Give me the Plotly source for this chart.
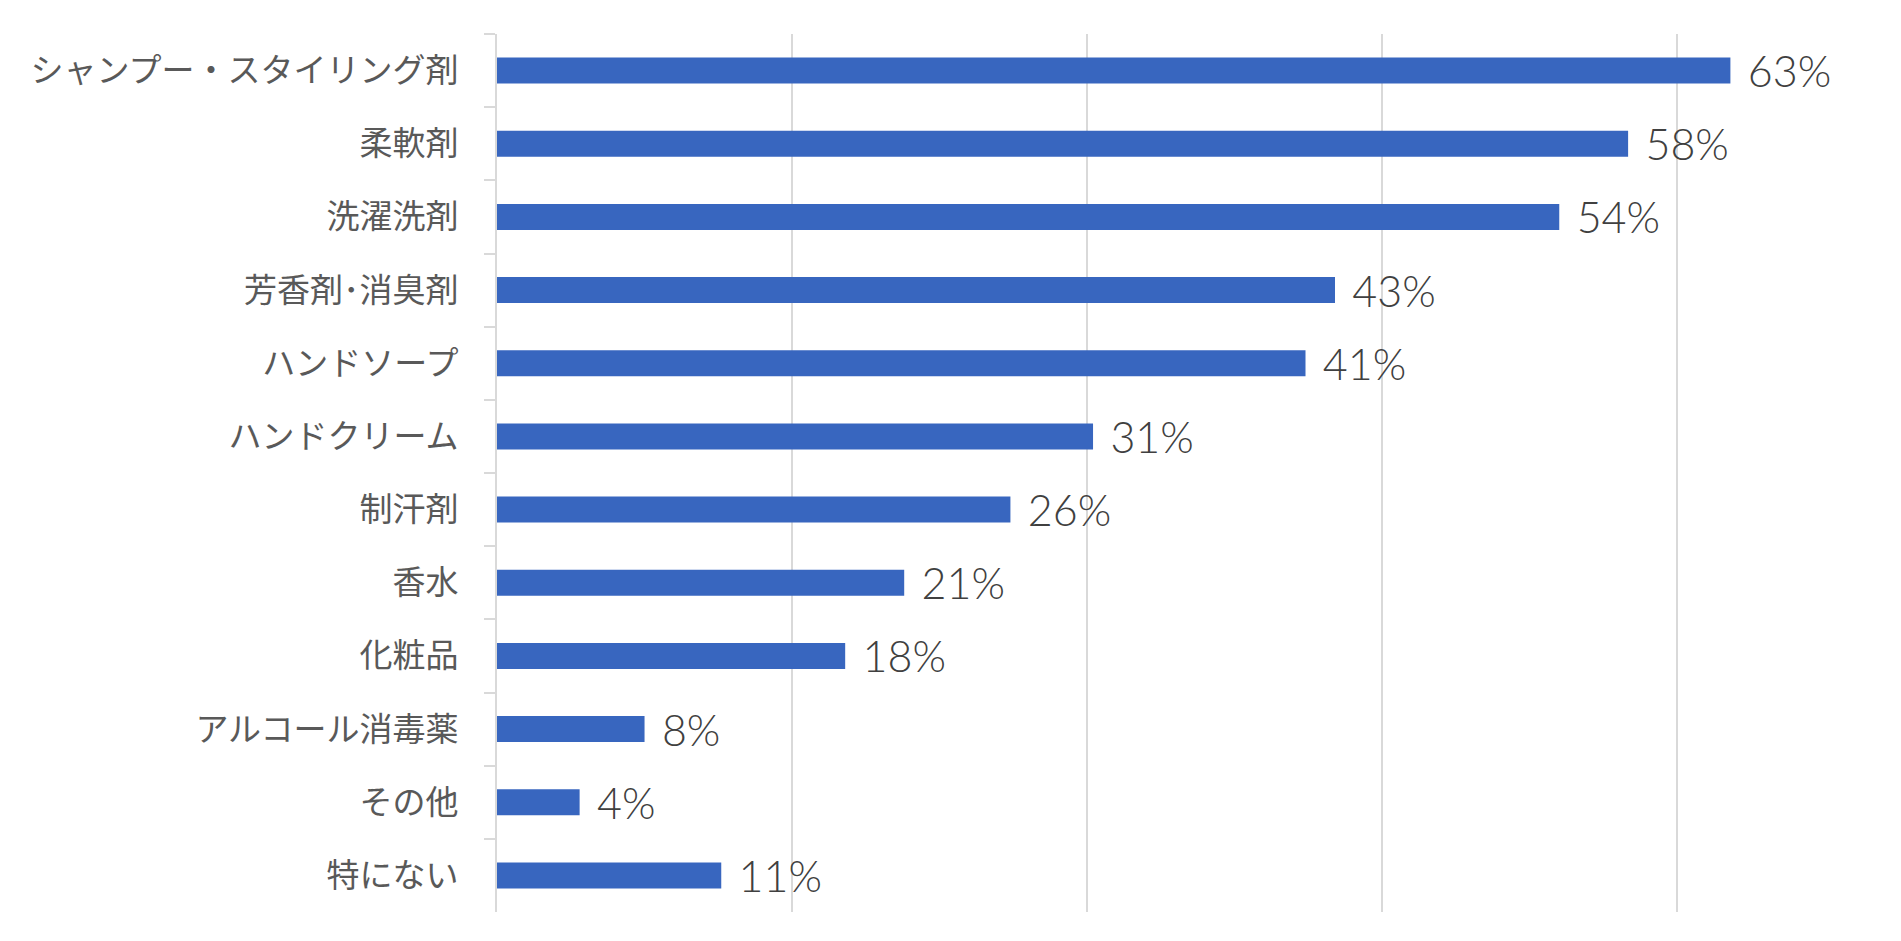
import plotly.graph_objects as go

categories = ["シャンプー・スタイリング剤", "柔軟剤", "洗濯洗剤", "芳香剤･消臭剤", "ハンドソープ",
              "ハンドクリーム", "制汗剤", "香水", "化粧品", "アルコール消毒薬", "その他", "特にない"]
values = [62.7, 57.5, 54.0, 42.6, 41.1, 30.3, 26.1, 20.7, 17.7, 7.5, 4.2, 11.4]
labels = ["63%", "58%", "54%", "43%", "41%", "31%", "26%", "21%", "18%", "8%", "4%", "11%"]
x_ticks = [0, 15, 30, 45, 60]

fig = go.Figure(go.Bar(
    y=categories,
    x=values,
    orientation="h",
    marker=dict(color="#3866BF", line=dict(width=0)),
    text=["\u00a0\u200a" + t for t in labels],
    textposition="outside",
    constraintext="none",
    cliponaxis=False,
    textfont=dict(family="Lato", size=43, color="#404040", weight=300),
    hoverinfo="skip",
))

fig.update_layout(
    width=1901, height=941,
    margin=dict(l=497, r=27, t=34, b=29),
    paper_bgcolor="white", plot_bgcolor="white",
    bargap=0.645,
    showlegend=False,
    font=dict(family="Noto Sans CJK JP", color="#595959"),
)
fig.update_xaxes(
    range=[0, 70],
    tickvals=x_ticks,
    showticklabels=False,
    showgrid=True, gridcolor="#D9D9D9", gridwidth=2,
    zeroline=False, showline=False, ticks="",
)
fig.update_yaxes(
    type="category",
    autorange="reversed",
    showline=True, linecolor="#D9D9D9", linewidth=2,
    ticks="outside", ticklen=11, tickcolor="#D9D9D9", tickwidth=2,
    tickson="boundaries",
    showgrid=False,
    ticklabelstandoff=30,
    tickfont=dict(family="Noto Sans CJK JP", size=33, color="#595959"),
)

fig.write_html("out.html")
